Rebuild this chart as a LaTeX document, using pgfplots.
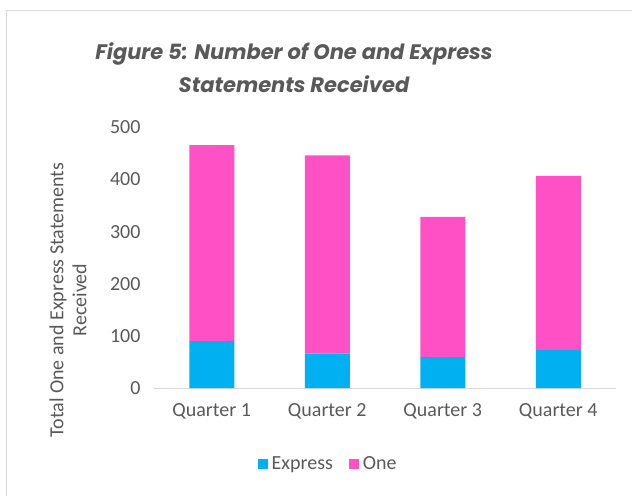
\documentclass[border=0pt]{standalone}
\usepackage{pgfplots}
\pgfplotsset{compat=1.18}
\usepackage{fontspec}
\setmainfont{Carlito}
\newfontfamily\titlefont{Poppins}
\definecolor{txt}{HTML}{595959}
\definecolor{expr}{HTML}{00B0F0}
\definecolor{onec}{HTML}{FF50C5}
\definecolor{brd}{HTML}{D9D9D9}
\begin{document}
\begin{tikzpicture}[x=1pt,y=1pt]
\useasboundingbox (0,0) rectangle (632,496);
\draw[brd, line width=1.5pt] (6.5,0) -- (6.5,485.5) -- (640,485.5);
\begin{axis}[
  at={(154pt,108pt)}, anchor=south west,
  scale only axis, width=462pt, height=260.7pt,
  ybar stacked, bar width=45pt,
  xmin=-0.5, xmax=3.5, ymin=0, ymax=500,
  xtick=data, xticklabels={Quarter 1,Quarter 2,Quarter 3,Quarter 4},
  ytick={0,100,...,500},
  axis lines*=left,
  y axis line style={draw=none},
  x axis line style={draw=brd, line width=1pt},
  major tick length=0pt,
  tick label style={font=\fontsize{20}{24}\selectfont, text=txt},
  /pgf/number format/assume math mode=true,
  yticklabel style={xshift=-10pt},
  xticklabel style={yshift=-12pt},
  legend columns=2,
  legend style={at={(0.377,-0.2915)}, anchor=center, draw=none, fill=none,
    font=\fontsize{20}{24}\selectfont, text=txt,
    /tikz/every odd column/.append style={column sep=2pt},
    /tikz/every even column/.append style={column sep=14pt}},
  legend image code/.code={\fill[#1] (0pt,-5pt) rectangle (10pt,5pt);},
]
\addplot[fill=expr, draw=none] coordinates {(0,90) (1,66) (2,59) (3,73)};
\addplot[fill=onec, draw=none] coordinates {(0,376) (1,380) (2,269) (3,334)};
\legend{Express,One}
\end{axis}
\node[text=txt, font=\titlefont\fontsize{21}{33}\selectfont\bfseries\itshape, align=center] at (294,428) {Figure 5: Number of One and Express\\Statements Received};
\node[text=txt, font=\fontsize{20}{23}\selectfont, align=center, rotate=90] at (68,196) {Total One and Express Statements\\Received};
\end{tikzpicture}
\end{document}
